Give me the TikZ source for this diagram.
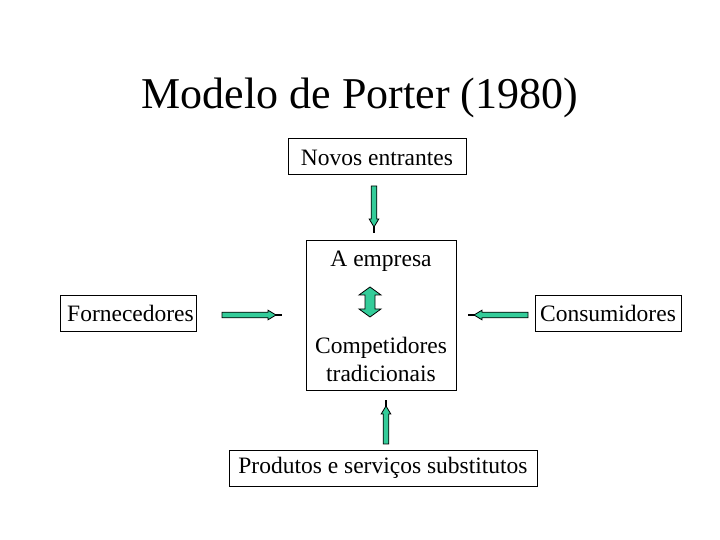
\documentclass[tikz,border=0pt]{standalone}
\usepackage{fontspec}
\setmainfont{Liberation Serif}
\definecolor{arrgreen}{RGB}{51,204,153}
\begin{document}
\begin{tikzpicture}[x=1pt,y=1pt,
  box/.style={draw=black, line width=0.8pt, inner sep=0pt, font=\fontsize{23.5}{28}\selectfont},
  lbl/.style={inner sep=0pt, font=\fontsize{23.5}{28}\selectfont, align=center},
  arrfill/.style={fill=arrgreen, draw=black, line width=0.8pt},
  pics/barrow/.style={code={
    \path[arrfill] (0,-2.8) -- (#1-14,-2.8) -- (#1-14,-4.8) -- (#1-6,0) -- (#1-14,4.8) -- (#1-14,2.8) -- (0,2.8) -- cycle;
    \draw[line width=1.3pt] (#1-7,0) -- (#1,0);
  }}]
\useasboundingbox (0,0) rectangle (720,540);
\node[inner sep=0pt, font=\fontsize{44}{48}\selectfont] (title) at (360,442) {Modelo de Porter (1980)};
\node[box, minimum width=178, minimum height=36, text depth=0pt, text height=20pt] (novos) at (377,384) {Novos entrantes};
\node[box, minimum width=150, minimum height=150] (emp) at (381,225) {};
\node[lbl] (empa) at (381,279) {A empresa};
\node[lbl] (comp) at (381,181) {Competidores\\tradicionais};
\node[box, minimum width=136, minimum height=36] (forn) at (128,227) {\raisebox{-2pt}{\hspace*{5pt}Fornecedores}};
\node[box, minimum width=146, minimum height=36] (cons) at (608,227) {\raisebox{-2pt}{Consumidores}};
\node[box, minimum width=308, minimum height=36] (prod) at (383,72) {\raisebox{-2pt}{Produtos e serviços substitutos}};
\coordinate (a1) at (374,354);
\coordinate (a2) at (222,225);
\coordinate (a3) at (528,225);
\coordinate (a4) at (386,96);
\coordinate (dbl) at (370,238);
\pic[rotate=-90] at (a1) {barrow=47};
\pic at (a2) {barrow=60};
\pic[rotate=180] at (a3) {barrow=60};
\pic[rotate=90] at (a4) {barrow=44};
\path[arrfill] ([shift={(0,15)}]dbl) -- ++(-11,-8) -- ++(6,0) -- ++(0,-14) -- ++(-6,0) -- ++(11,-8) -- ++(11,8) -- ++(-6,0) -- ++(0,14) -- ++(6,0) -- cycle;
\end{tikzpicture}
\end{document}
